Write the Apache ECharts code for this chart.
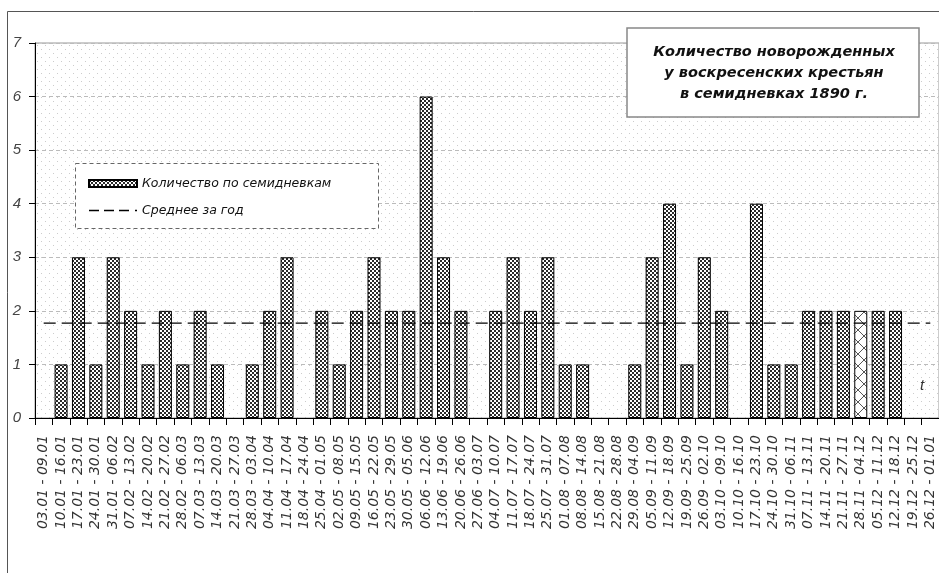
<!DOCTYPE html>
<html>
<head>
<meta charset="utf-8">
<script src="https://cdn.jsdelivr.net/npm/echarts@6/dist/echarts.min.js"></script>
<style>
html,body{margin:0;padding:0;background:#fff;}
#chart{width:939px;height:573px;}
</style>
</head>
<body>
<div id="chart"></div>
<script>
// ---- data ----
const weeks = [
  '03.01 - 09.01','10.01 - 16.01','17.01 - 23.01','24.01 - 30.01','31.01 - 06.02',
  '07.02 - 13.02','14.02 - 20.02','21.02 - 27.02','28.02 - 06.03','07.03 - 13.03',
  '14.03 - 20.03','21.03 - 27.03','28.03 - 03.04','04.04 - 10.04','11.04 - 17.04',
  '18.04 - 24.04','25.04 - 01.05','02.05 - 08.05','09.05 - 15.05','16.05 - 22.05',
  '23.05 - 29.05','30.05 - 05.06','06.06 - 12.06','13.06 - 19.06','20.06 - 26.06',
  '27.06 - 03.07','04.07 - 10.07','11.07 - 17.07','18.07 - 24.07','25.07 - 31.07',
  '01.08 - 07.08','08.08 - 14.08','15.08 - 21.08','22.08 - 28.08','29.08 - 04.09',
  '05.09 - 11.09','12.09 - 18.09','19.09 - 25.09','26.09 - 02.10','03.10 - 09.10',
  '10.10 - 16.10','17.10 - 23.10','24.10 - 30.10','31.10 - 06.11','07.11 - 13.11',
  '14.11 - 20.11','21.11 - 27.11','28.11 - 04.12','05.12 - 11.12','12.12 - 18.12',
  '19.12 - 25.12','26.12 - 01.01'
];
const births = [
  0,1,3,1,3,2,1,2,1,2,
  1,0,1,2,3,0,2,1,2,3,
  2,2,6,3,2,0,2,3,2,3,
  1,1,0,0,1,3,4,1,3,2,
  0,4,1,1,2,2,2,2,2,2,
  0,0
];
const yearMean = [1.77];
const highlightIndex = [47];
const titleLines = ['Количество новорожденных','у воскресенских крестьян','в семидневках 1890 г.'];
const seriesNames = ['Количество по семидневкам','Среднее за год'];

// ---- patterns ----
function makeCanvas(w,h,draw){const c=document.createElement('canvas');c.width=w;c.height=h;draw(c.getContext('2d'));return c;}
const checker = makeCanvas(4,4,ctx=>{ctx.fillStyle='#fff';ctx.fillRect(0,0,4,4);ctx.fillStyle='#2a2a2a';ctx.fillRect(0,0,2,2);ctx.fillRect(2,2,2,2);});
const hatch = makeCanvas(12,12,ctx=>{ctx.fillStyle='#fff';ctx.fillRect(0,0,12,12);ctx.strokeStyle='#555';ctx.lineWidth=1;ctx.beginPath();ctx.moveTo(0,0);ctx.lineTo(12,12);ctx.moveTo(12,0);ctx.lineTo(0,12);ctx.stroke();});
const dots = makeCanvas(8,8,ctx=>{ctx.fillStyle='#fff';ctx.fillRect(0,0,8,8);ctx.fillStyle='#cccccc';ctx.fillRect(1,1,1,1);ctx.fillRect(5,5,1,1);});

const checkerFill = {image:checker,repeat:'repeat'};
const hatchFill = {image:hatch,repeat:'repeat'};

const barData = births.map((v,i)=> v===0 ? null : (highlightIndex.indexOf(i)>=0 ? {value:v,itemStyle:{color:hatchFill}} : v));
const meanData = weeks.map(()=>yearMean[0]);

const dashIcon = 'path://M0,0h10v1.3h-10zM15,0h10v1.3h-10zM30,0h10v1.3h-10zM46,0h2v1.3h-2z';

const chart = echarts.init(document.getElementById('chart'),null,{renderer:'canvas'});
chart.setOption({
  animation:false,
  backgroundColor:'#fff',
  grid:{left:35,top:43,width:911.6,height:375,show:true,borderColor:'#999',borderWidth:1,backgroundColor:{image:dots,repeat:'repeat'}},
  xAxis:{
    type:'category',data:weeks,
    axisLine:{lineStyle:{color:'#000',width:1}},
    axisTick:{show:true,length:7,lineStyle:{color:'#000'}},
    axisLabel:{interval:0,rotate:90,margin:17,padding:[0,0,8,0],fontFamily:'DejaVu Sans',fontStyle:'italic',fontSize:14,color:'#333'},
    splitLine:{show:false}
  },
  yAxis:{
    type:'value',min:0,max:7,interval:1,
    axisLine:{show:true,lineStyle:{color:'#000',width:1}},
    axisTick:{show:true,length:6,lineStyle:{color:'#000'}},
    axisLabel:{margin:14,fontFamily:'Liberation Sans',fontStyle:'italic',fontSize:15,color:'#444'},
    splitLine:{show:true,lineStyle:{color:'#bbb',type:[4,3],width:1}}
  },
  legend:{
    orient:'vertical',left:83,top:172,itemWidth:48,itemHeight:7,itemGap:14,symbolKeepAspect:true,
    textStyle:{fontFamily:'DejaVu Sans',fontStyle:'italic',fontSize:12.5,color:'#111'},
    data:[
      {name:seriesNames[0],icon:'rect'},
      {name:seriesNames[1],icon:dashIcon,itemStyle:{color:'#000',borderWidth:0}}
    ],
    z:20
  },
  graphic:[
    {type:'rect',z:-1,shape:{x:7.5,y:11.5,width:1200,height:1200},style:{fill:'none',stroke:'#555',lineWidth:1}},
    {type:'rect',z:10,shape:{x:75.5,y:163.5,width:303,height:65},style:{fill:'#fff',stroke:'#666',lineWidth:1,lineDash:[4,3]}},
    {type:'rect',z:10,shape:{x:627,y:28,width:292,height:89},style:{fill:'#fff',stroke:'#888',lineWidth:1.5}},
    {type:'text',z:11,x:774,y:42,style:{text:titleLines.join('\n'),fill:'#111',font:'italic bold 14.5px "DejaVu Sans"',align:'center',lineHeight:21}},
    {type:'text',z:11,x:920,y:378,style:{text:'t',fill:'#333',font:'italic 15px "Liberation Sans"'}}
  ],
  series:[
    {name:seriesNames[0],type:'bar',data:barData,barWidth:13,
     itemStyle:{color:checkerFill,borderColor:'#000',borderWidth:1},z:2},
    {name:seriesNames[1],type:'line',data:meanData,symbol:'none',z:5,
     lineStyle:{color:'#000',width:1.2,type:[12,6]},itemStyle:{color:'#000'}}
  ]
});
</script>
</body>
</html>
